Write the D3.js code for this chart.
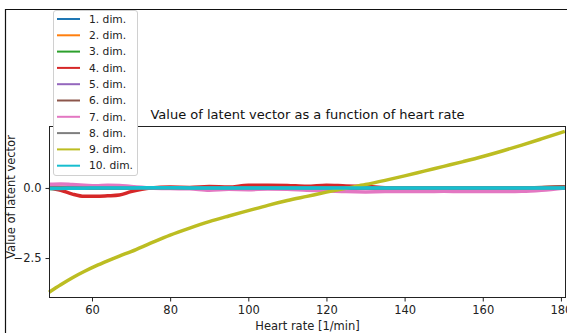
<!DOCTYPE html>
<html>
<head>
<meta charset="utf-8">
<script src="https://cdn.jsdelivr.net/npm/d3@7/dist/d3.min.js"></script>
<style>
  body { margin: 0; background: #fff; }
  svg { display: block; font-family: "DejaVu Sans", sans-serif; }
</style>
</head>
<body>
<svg width="567" height="333"></svg>
<script>
// heart rate samples [1/min]
const heartRate = [49, 52, 55, 58, 61, 64, 67, 70, 75, 80, 85, 90, 95, 100, 105,
  110, 115, 120, 125, 130, 135, 140, 145, 150, 155, 160, 165, 170, 175, 181];

const dimNames = ['1. dim.', '2. dim.', '3. dim.', '4. dim.', '5. dim.',
  '6. dim.', '7. dim.', '8. dim.', '9. dim.', '10. dim.'];

const dim1 = [0.01, 0.01, 0.0, 0.0, -0.01, -0.01, 0.0, 0.0, 0.01, 0.01, 0.0, 0.0, 0.0, 0.01, 0.01,
  0.0, 0.0, 0.0, 0.0, 0.0, 0.0, 0.0, 0.0, 0.0, 0.0, 0.0, 0.0, 0.0, 0.0, 0.0];
const dim2 = [0.02, 0.02, 0.01, 0.0, 0.0, 0.0, 0.0, 0.0, 0.0, 0.0, 0.0, 0.0, 0.0, 0.0, 0.0,
  0.0, 0.0, 0.0, 0.0, 0.0, 0.0, 0.0, 0.0, 0.0, 0.0, 0.0, 0.0, 0.0, 0.01, 0.02];
const dim3 = [-0.02, -0.01, -0.01, 0.0, 0.0, 0.0, 0.0, 0.0, 0.0, 0.0, 0.0, 0.0, 0.0, 0.0, 0.0,
  0.0, 0.0, 0.0, 0.0, 0.0, 0.0, 0.0, 0.0, 0.0, 0.0, 0.0, 0.0, 0.0, 0.0, 0.0];
const dim4 = [0.0, -0.08, -0.22, -0.3, -0.3, -0.28, -0.25, -0.13, 0.0, 0.03, 0.02, 0.05, 0.03, 0.1, 0.1,
  0.09, 0.06, 0.1, 0.07, 0.06, 0.01, 0.0, 0.0, 0.0, 0.0, 0.0, 0.0, 0.0, 0.01, 0.03];
const dim5 = [0.0, 0.0, 0.0, 0.0, 0.0, 0.0, 0.0, 0.0, 0.0, 0.0, 0.0, 0.0, 0.0, 0.0, 0.0,
  0.0, 0.0, 0.0, 0.0, 0.0, 0.0, 0.0, 0.0, 0.0, 0.0, 0.0, 0.0, 0.0, 0.0, 0.0];
const dim6 = [0.03, 0.02, 0.0, 0.0, 0.0, 0.0, 0.0, 0.0, 0.0, 0.0, 0.0, 0.0, 0.0, 0.0, 0.0,
  0.0, 0.0, 0.0, 0.0, 0.0, 0.0, 0.0, 0.0, 0.0, 0.0, 0.0, 0.0, 0.0, 0.02, 0.04];
const dim7 = [0.13, 0.14, 0.12, 0.1, 0.08, 0.1, 0.09, 0.05, 0.0, -0.02, -0.03, -0.08, -0.05, -0.06, -0.04,
  -0.05, -0.08, -0.1, -0.13, -0.14, -0.13, -0.13, -0.13, -0.12, -0.13, -0.13, -0.13, -0.12, -0.08, 0.0];
const dim8 = [0.0, 0.0, 0.0, 0.0, 0.0, 0.0, 0.0, 0.0, 0.0, 0.0, 0.0, 0.0, 0.0, 0.0, 0.0,
  0.0, 0.0, 0.0, 0.0, 0.0, 0.0, 0.0, 0.0, 0.0, 0.0, 0.0, 0.0, 0.0, 0.0, 0.0];
const dim9 = [-3.72, -3.45, -3.2, -2.98, -2.78, -2.6, -2.43, -2.27, -1.97, -1.68, -1.43, -1.2, -1.0, -0.81, -0.62,
  -0.45, -0.3, -0.15, -0.01, 0.12, 0.27, 0.43, 0.6, 0.77, 0.94, 1.12, 1.32, 1.53, 1.75, 2.02];
const dim10 = [-0.02, -0.02, -0.01, -0.01, 0.0, 0.0, 0.0, 0.0, 0.01, 0.01, 0.0, 0.0, 0.0, 0.0, 0.0,
  0.0, 0.0, 0.0, 0.0, 0.0, 0.0, 0.0, 0.0, 0.0, 0.0, 0.0, 0.0, 0.0, 0.0, 0.0];

const xTicks = [60, 80, 100, 120, 140, 160, 180];
const yTicks = [0, -2.5];

const series = [dim1, dim2, dim3, dim4, dim5, dim6, dim7, dim8, dim9, dim10];
const colors = d3.schemeCategory10;

const svg = d3.select("svg");

// axes box
const plotLeft = 49, plotRight = 566, plotTop = 126, plotBottom = 297;

const x = d3.scaleLinear().domain([49, 181.3]).range([plotLeft, plotRight]);
const y = d3.scaleLinear().domain([-3.89, 2.21]).range([plotBottom, plotTop]);

// outer frame of the (cropped) figure
svg.append("path")
    .attr("d", "M5.5,340V9.5H570")
    .attr("fill", "none")
    .attr("stroke", "#111")
    .attr("stroke-width", 1.2);

const line = d3.line()
    .x((d, i) => x(heartRate[i]))
    .y(d => y(d))
    .curve(d3.curveMonotoneX);

svg.append("g")
    .selectAll("path")
    .data(series)
    .join("path")
      .attr("d", line)
      .attr("fill", "none")
      .attr("stroke", (d, i) => colors[i])
      .attr("stroke-width", 3.5)
      .attr("stroke-linejoin", "round");

// spines
svg.append("rect")
    .attr("x", plotLeft + 0.5)
    .attr("y", plotTop + 0.5)
    .attr("width", plotRight - plotLeft - 1)
    .attr("height", plotBottom - plotTop)
    .attr("fill", "none")
    .attr("stroke", "#222")
    .attr("stroke-width", 1);

const xAxis = svg.append("g")
    .attr("transform", `translate(0,${plotBottom + 0.5})`)
    .call(d3.axisBottom(x).tickValues(xTicks).tickSize(4).tickPadding(4).tickFormat(d3.format("d")));

const yAxis = svg.append("g")
    .attr("transform", `translate(${plotLeft + 0.5},0)`)
    .call(d3.axisLeft(y).tickValues(yTicks).tickSize(4).tickPadding(4)
      .tickFormat(d => d3.format(".1f")(d).replace("-", "\u2212")));

[xAxis, yAxis].forEach(g => {
  g.select(".domain").remove();
  g.selectAll("line").attr("stroke", "#222");
  g.selectAll("text")
    .attr("fill", "#222")
    .attr("font-size", 11.5)
    .attr("font-family", "DejaVu Sans, sans-serif");
});

svg.append("text")
    .attr("x", (plotLeft + plotRight) / 2)
    .attr("y", 119)
    .attr("text-anchor", "middle")
    .attr("font-size", 13)
    .attr("fill", "#111")
    .text("Value of latent vector as a function of heart rate");

svg.append("text")
    .attr("x", (plotLeft + plotRight) / 2)
    .attr("y", 330)
    .attr("text-anchor", "middle")
    .attr("font-size", 11.5)
    .attr("fill", "#222")
    .text("Heart rate [1/min]");

svg.append("text")
    .attr("transform", "translate(15,197) rotate(-90)")
    .attr("text-anchor", "middle")
    .attr("font-size", 11.5)
    .attr("fill", "#222")
    .text("Value of latent vector");

// legend
const legend = svg.append("g");

legend.append("rect")
    .attr("x", 53.5)
    .attr("y", 10.5)
    .attr("width", 84)
    .attr("height", 165)
    .attr("rx", 2.5)
    .attr("fill", "#fff")
    .attr("stroke", "#d0d0d0");

const rows = legend.selectAll("g.row")
    .data(dimNames)
    .join("g")
      .attr("class", "row")
      .attr("transform", (d, i) => `translate(0,${19 + i * 16.3})`);

rows.append("line")
    .attr("x1", 57)
    .attr("x2", 80)
    .attr("stroke", (d, i) => colors[i])
    .attr("stroke-width", 2);

rows.append("text")
    .attr("x", 89)
    .attr("dy", "0.35em")
    .attr("font-size", 10.7)
    .attr("fill", "#222")
    .text(d => d);
</script>
</body>
</html>
